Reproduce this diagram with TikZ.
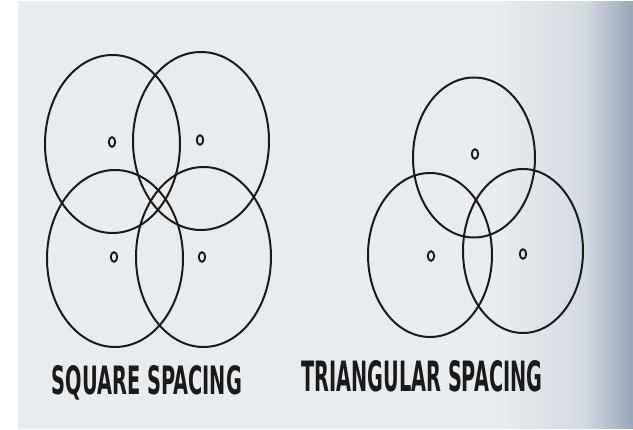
\documentclass[tikz,border=0pt]{standalone}
\usepackage{fontspec}
\setsansfont{DejaVu Sans}
\definecolor{paper}{HTML}{E9ECEF}
\definecolor{papermid}{HTML}{D3DAE2}
\definecolor{paperedge}{HTML}{9AA7B6}
\definecolor{ink}{HTML}{1A1A1A}
\pgfdeclarehorizontalshading{pagetone}{100bp}{color(0bp)=(paper); color(64bp)=(paper);
  color(71bp)=(papermid); color(75bp)=(paperedge); color(100bp)=(paperedge)}
\tikzset{
  ring/.style={draw=ink, line width=2pt},
  pip/.style={draw=ink, line width=1.9pt},
  caption/.style={inner sep=0pt, text=ink}
}
\begin{document}
\begin{tikzpicture}[x=1pt,y=-1pt]
  \useasboundingbox (0,0) rectangle (633,430);
  % page
  \shade[shading=pagetone] (18,2) rectangle (633,429);
  % square spacing
  \draw[ring] (112.5,144) ellipse (67.5 and 89);
  \draw[ring] (201,141) ellipse (68 and 89);
  \draw[ring] (115,258.5) ellipse (68 and 88.5);
  \draw[ring] (203.5,257) ellipse (67.5 and 90);
  % triangular spacing
  \draw[ring] (474,157.5) ellipse (61 and 80);
  \draw[ring] (430,255) ellipse (62 and 82);
  \draw[ring] (523,251) ellipse (60 and 82);
  % centres
  \foreach \x/\y in {112/142, 200/140, 114/257, 202/257, 475/154, 431/256, 523/254}
    \draw[pip] (\x,\y) ellipse (3.2 and 4.8);
  \node[caption] (sqlabel) at (147,383) {\resizebox{190pt}{29pt}{\sffamily\bfseries SQUARE SPACING}};
  \node[caption] (trilabel) at (422,376) {\resizebox{241pt}{31pt}{\sffamily\bfseries TRIANGULAR SPACING}};
\end{tikzpicture}
\end{document}
